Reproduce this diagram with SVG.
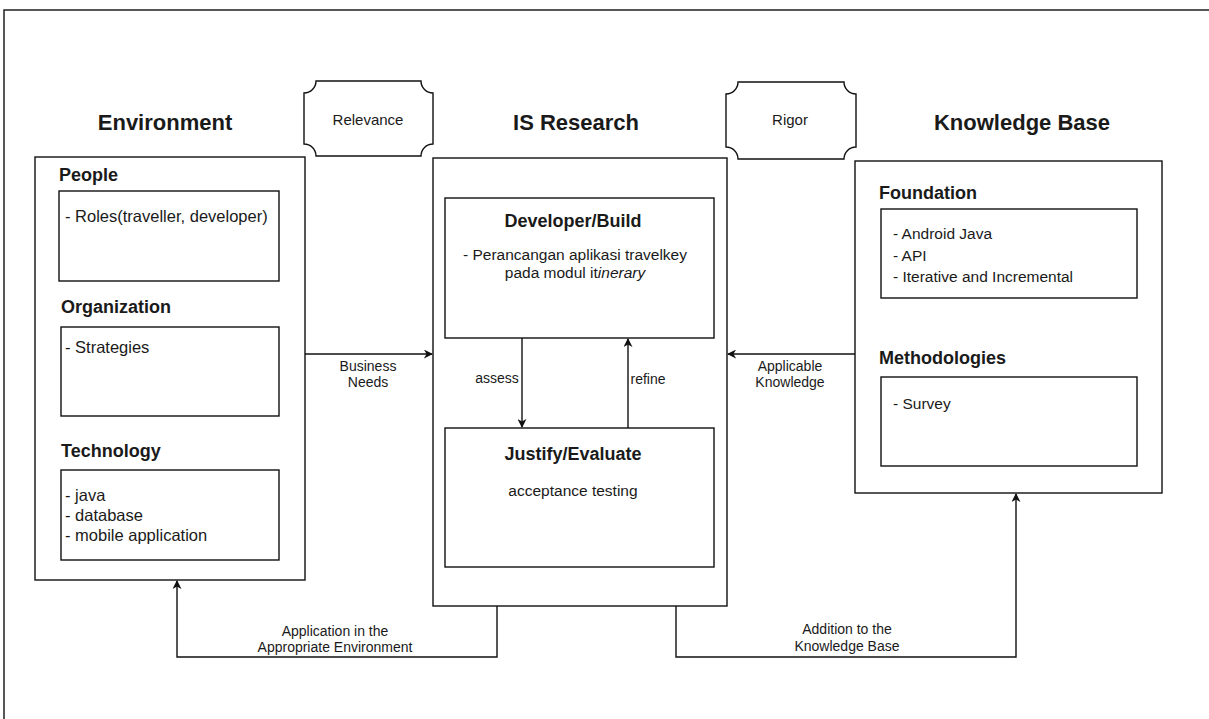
<svg xmlns="http://www.w3.org/2000/svg" width="1209" height="719" viewBox="0 0 1209 719">
<style>
.box{fill:#fff;stroke:#111;stroke-width:1.4}
.con{fill:none;stroke:#111;stroke-width:1.4}
.t{font-family:"Liberation Sans",Arial,sans-serif;fill:#1a1a1a}
.h1{font-size:22px;font-weight:bold;text-anchor:middle}
.h2{font-size:18px;font-weight:bold}
.b{font-size:15.5px}
.bl{font-size:16.5px}
.c{font-size:14px;text-anchor:middle}
</style>
<defs>
<marker id="arr" viewBox="0 0 10 10" refX="9" refY="5" markerWidth="9" markerHeight="9" markerUnits="userSpaceOnUse" orient="auto">
<path d="M0,0 L10,5 L0,10 L3,5 z" fill="#111"/>
</marker>
</defs>
<rect x="0" y="0" width="1209" height="719" fill="#fff"/>
<rect x="4" y="10" width="1220" height="730" fill="none" stroke="#111" stroke-width="1.4"/>

<g id="environment">
<text class="t h1" x="165" y="130">Environment</text>
<rect class="box" x="35" y="157" width="270" height="423"/>
<text class="t h2" x="59" y="181">People</text>
<rect class="box" x="59" y="191" width="220" height="90"/>
<text class="t bl" x="65" y="222">- Roles(traveller, developer)</text>
<text class="t h2" x="61" y="313">Organization</text>
<rect class="box" x="61" y="327" width="218" height="89"/>
<text class="t bl" x="65" y="353">- Strategies</text>
<text class="t h2" x="61" y="457">Technology</text>
<rect class="box" x="61" y="470" width="218" height="90"/>
<text class="t bl" x="65" y="501">- java</text>
<text class="t bl" x="65" y="521">- database</text>
<text class="t bl" x="65" y="541">- mobile application</text>
</g>

<g id="relevance">
<path class="box" d="M316,81 H421 A12 12 0 0 0 433,93 V144 A12 12 0 0 0 421,156 H316 A12 12 0 0 0 304,144 V93 A12 12 0 0 0 316,81 Z"/>
<text class="t" x="368" y="125" font-size="15" text-anchor="middle">Relevance</text>
</g>

<g id="rigor">
<path class="box" d="M738,82 H844 A12 12 0 0 0 856,94 V147 A12 12 0 0 0 844,159 H738 A12 12 0 0 0 726,147 V94 A12 12 0 0 0 738,82 Z"/>
<text class="t" x="790" y="125" font-size="15" text-anchor="middle">Rigor</text>
</g>

<g id="is-research">
<text class="t h1" x="576" y="130">IS Research</text>
<rect class="box" x="433" y="158" width="294" height="448"/>
</g>

<g id="developer-build">
<rect class="box" x="445" y="198" width="269" height="140"/>
<text class="t h2" x="573" y="227" text-anchor="middle">Developer/Build</text>
<text class="t b" x="575" y="260" text-anchor="middle">- Perancangan aplikasi travelkey</text>
<text class="t b" x="575" y="278" text-anchor="middle">pada modul it<tspan font-style="italic">inerary</tspan></text>
</g>

<g id="justify-evaluate">
<rect class="box" x="445" y="428" width="269" height="139"/>
<text class="t h2" x="573" y="460" text-anchor="middle">Justify/Evaluate</text>
<text class="t b" x="573" y="496" text-anchor="middle">acceptance testing</text>
</g>

<g id="knowledge-base">
<text class="t h1" x="1022" y="130">Knowledge Base</text>
<rect class="box" x="855" y="161" width="307" height="332"/>
<text class="t h2" x="879" y="199">Foundation</text>
<rect class="box" x="881" y="209" width="256" height="89"/>
<text class="t b" x="893" y="239">- Android Java</text>
<text class="t b" x="893" y="261">- API</text>
<text class="t b" x="893" y="282">- Iterative and Incremental</text>
<text class="t h2" x="879" y="364">Methodologies</text>
<rect class="box" x="881" y="377" width="256" height="89"/>
<text class="t b" x="893" y="409">- Survey</text>
</g>

<g id="connectors">
<path class="con" d="M305,354 H432" marker-end="url(#arr)"/>
<text class="t c" x="368" y="371">Business</text>
<text class="t c" x="368" y="387">Needs</text>
<path class="con" d="M855,354 H728" marker-end="url(#arr)"/>
<text class="t c" x="790" y="371">Applicable</text>
<text class="t c" x="790" y="387">Knowledge</text>
<path class="con" d="M522,338 V427" marker-end="url(#arr)"/>
<text class="t c" x="497" y="383">assess</text>
<path class="con" d="M628,428 V339" marker-end="url(#arr)"/>
<text class="t c" x="648" y="384">refine</text>
<path class="con" d="M497,606 V657 H177 V581" marker-end="url(#arr)"/>
<text class="t c" x="335" y="636">Application in the</text>
<text class="t c" x="335" y="652">Appropriate Environment</text>
<path class="con" d="M676,606 V657 H1016 V494" marker-end="url(#arr)"/>
<text class="t c" x="847" y="634">Addition to the</text>
<text class="t c" x="847" y="651">Knowledge Base</text>
</g>
</svg>
